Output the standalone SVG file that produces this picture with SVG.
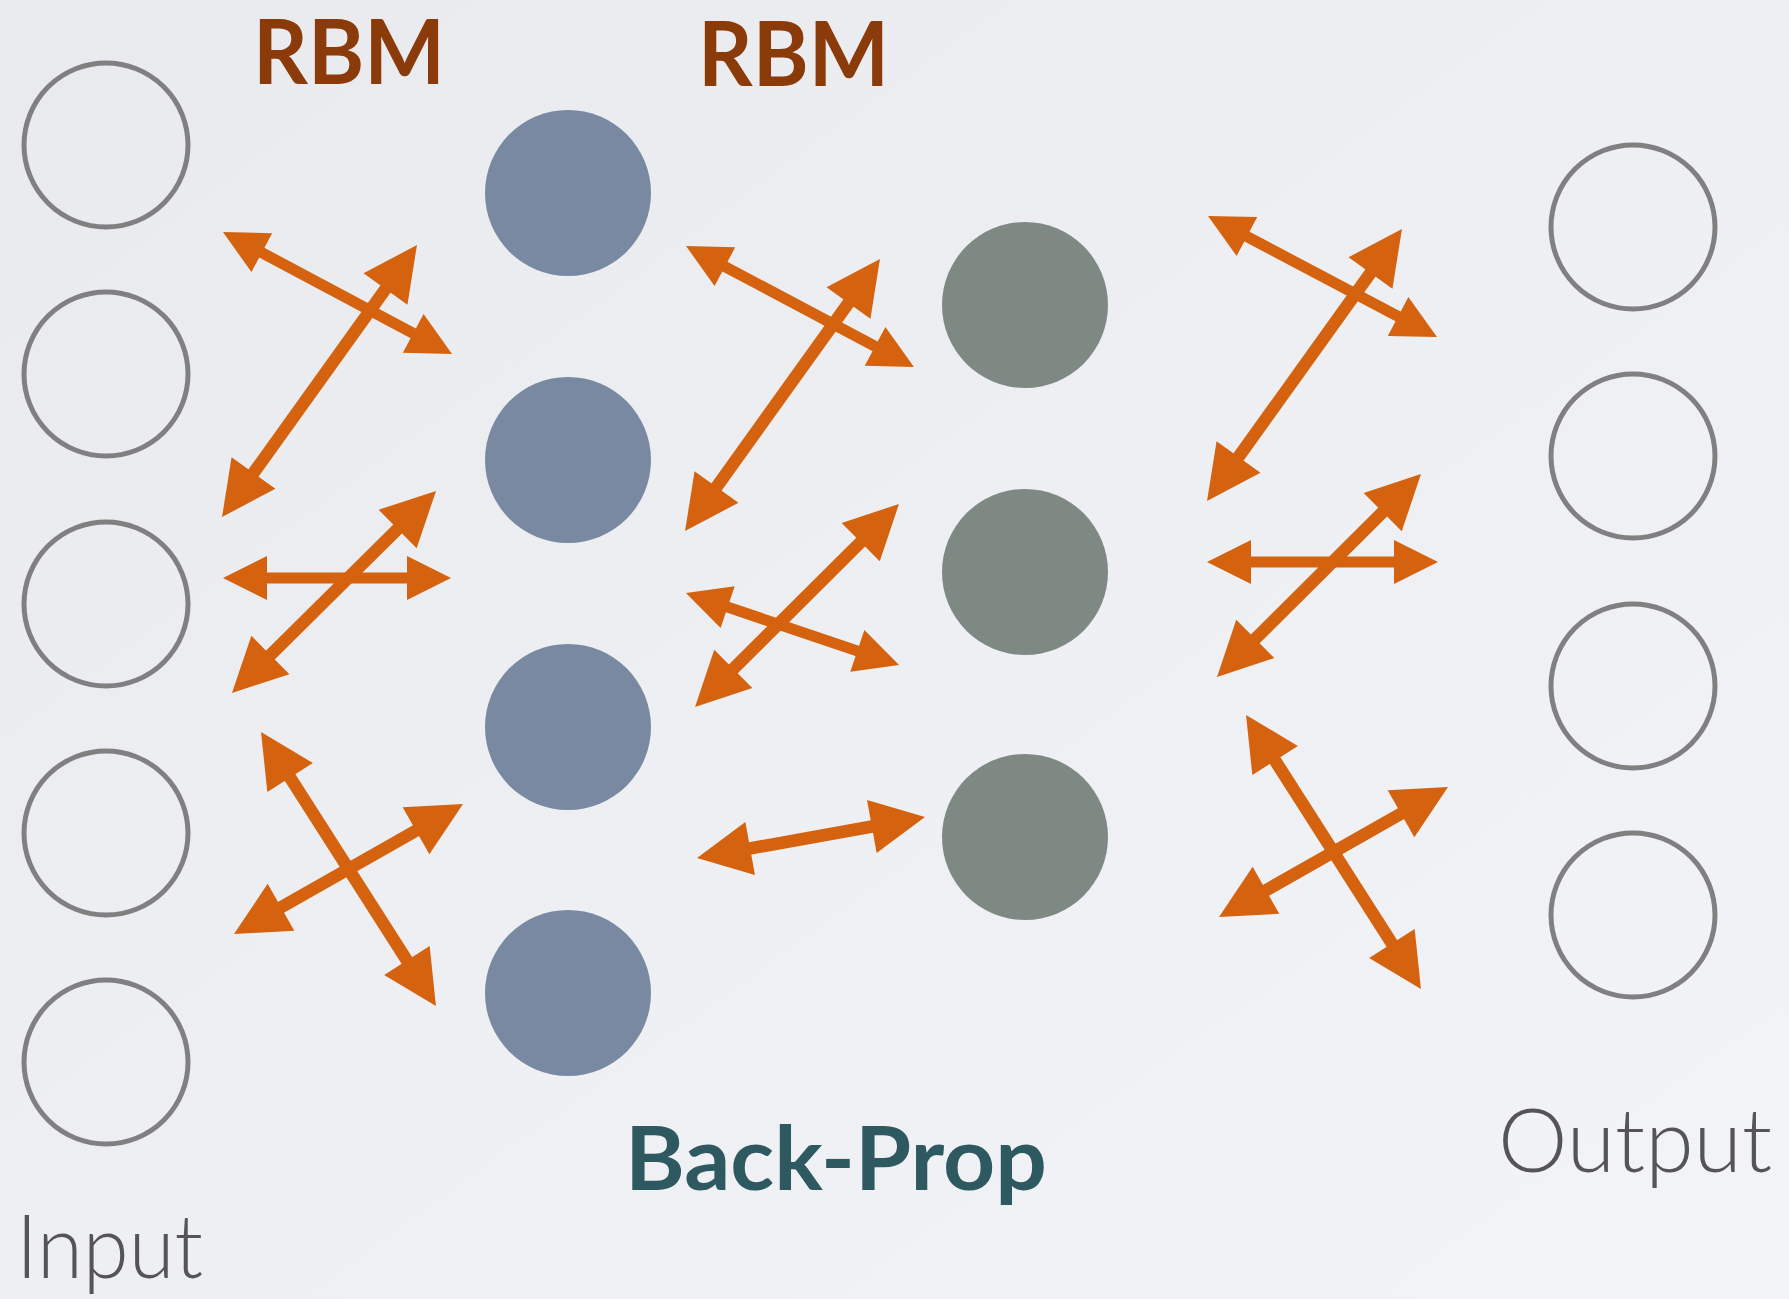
<svg xmlns="http://www.w3.org/2000/svg" width="1789" height="1299" viewBox="0 0 1789 1299">
  <defs>
    <linearGradient id="bg" x1="0" y1="0" x2="1" y2="1">
      <stop offset="0" stop-color="#E9EAEE"/>
      <stop offset="1" stop-color="#F3F4F8"/>
    </linearGradient>
    <!-- arrowheads: tip sits 20px beyond the line end so the shaft stays hidden -->
    <marker id="headS" markerUnits="userSpaceOnUse" markerWidth="44" markerHeight="44" refX="24" refY="22" orient="auto-start-reverse" overflow="visible">
      <path d="M0,0 L44,22 L0,44 Z" fill="#D4620E"/>
    </marker>
    <marker id="headL" markerUnits="userSpaceOnUse" markerWidth="54" markerHeight="54" refX="34" refY="27" orient="auto-start-reverse" overflow="visible">
      <path d="M0,0 L54,27 L0,54 Z" fill="#D4620E"/>
    </marker>
  </defs>
  <style>
    .in { fill: none; stroke: #808080; stroke-width: 5; }
    .h1 { fill: #7889A1; }
    .h2 { fill: #7F8984; }
    .arS { stroke: #D4620E; stroke-width: 11; fill: none; marker-start: url(#headS); marker-end: url(#headS); }
    .arL { stroke: #D4620E; stroke-width: 12.5; fill: none; marker-start: url(#headL); marker-end: url(#headL); }
    .rbm { font-family: Lato, "Liberation Sans", sans-serif; font-weight: 700; font-size: 89px; fill: #8B3A0A; }
    .bp { font-family: Lato, "Liberation Sans", sans-serif; font-weight: 700; font-size: 88px; fill: #2F5960; }
    .io { font-family: Lato, "Liberation Sans", sans-serif; font-weight: 300; font-size: 88px; fill: #555555; }
  </style>

  <rect width="1789" height="1299" fill="url(#bg)"/>

  <!-- input layer -->
  <g id="input-1"><circle class="in" cx="106" cy="145" r="82"/></g>
  <g id="input-2"><circle class="in" cx="106" cy="374" r="82"/></g>
  <g id="input-3"><circle class="in" cx="106" cy="604" r="82"/></g>
  <g id="input-4"><circle class="in" cx="106" cy="833" r="82"/></g>
  <g id="input-5"><circle class="in" cx="106" cy="1062" r="82"/></g>

  <!-- first hidden layer -->
  <g id="hidden1-1"><circle class="h1" cx="568" cy="193" r="83"/></g>
  <g id="hidden1-2"><circle class="h1" cx="568" cy="460" r="83"/></g>
  <g id="hidden1-3"><circle class="h1" cx="568" cy="727" r="83"/></g>
  <g id="hidden1-4"><circle class="h1" cx="568" cy="993" r="83"/></g>

  <!-- second hidden layer -->
  <g id="hidden2-1"><circle class="h2" cx="1025" cy="305" r="83"/></g>
  <g id="hidden2-2"><circle class="h2" cx="1025" cy="572" r="83"/></g>
  <g id="hidden2-3"><circle class="h2" cx="1025" cy="837" r="83"/></g>

  <!-- output layer -->
  <g id="output-1"><circle class="in" cx="1633" cy="227" r="82"/></g>
  <g id="output-2"><circle class="in" cx="1633" cy="456" r="82"/></g>
  <g id="output-3"><circle class="in" cx="1633" cy="686" r="82"/></g>
  <g id="output-4"><circle class="in" cx="1633" cy="915" r="82"/></g>

  <!-- bidirectional connectors -->
  <g id="connectors">
    <line class="arS" x1="240.6" y1="241.4" x2="434.4" y2="344.6"/>
    <line class="arL" x1="405.3" y1="261.3" x2="233.7" y2="500.7"/>
    <line class="arS" x1="243" y1="578" x2="431" y2="578"/>
    <line class="arL" x1="421.8" y1="505.1" x2="246.2" y2="678.9"/>
    <line class="arL" x1="271.8" y1="748.9" x2="425.2" y2="989.1"/>
    <line class="arL" x1="445.6" y1="813.9" x2="251.4" y2="924.1"/>

    <line class="arS" x1="703.7" y1="255.4" x2="896.3" y2="357.6"/>
    <line class="arL" x1="868.3" y1="275.3" x2="696.7" y2="514.7"/>
    <line class="arS" x1="704.9" y1="599.4" x2="880.1" y2="658.6"/>
    <line class="arL" x1="884.8" y1="518.1" x2="709.2" y2="692.9"/>
    <line class="arL" x1="716.7" y1="854.5" x2="905.3" y2="820.5"/>

    <line class="arS" x1="1225.7" y1="225.3" x2="1419.3" y2="327.7"/>
    <line class="arL" x1="1390.3" y1="245.3" x2="1218.7" y2="484.7"/>
    <line class="arS" x1="1227" y1="562" x2="1418" y2="562"/>
    <line class="arL" x1="1406.8" y1="488.1" x2="1231.2" y2="662.9"/>
    <line class="arL" x1="1256.8" y1="731.9" x2="1410.2" y2="972.1"/>
    <line class="arL" x1="1430.6" y1="796.9" x2="1236.4" y2="907.1"/>
  </g>

  <!-- labels -->
  <text class="rbm" x="253" y="84" textLength="192" lengthAdjust="spacingAndGlyphs">RBM</text>
  <text class="rbm" x="698" y="86" textLength="191" lengthAdjust="spacingAndGlyphs">RBM</text>
  <text class="bp" x="625" y="1190" textLength="422" lengthAdjust="spacingAndGlyphs">Back-Prop</text>
  <text class="io" x="16" y="1278" textLength="187" lengthAdjust="spacingAndGlyphs">Input</text>
  <text class="io" x="1498" y="1172" textLength="274" lengthAdjust="spacingAndGlyphs">Output</text>
</svg>
